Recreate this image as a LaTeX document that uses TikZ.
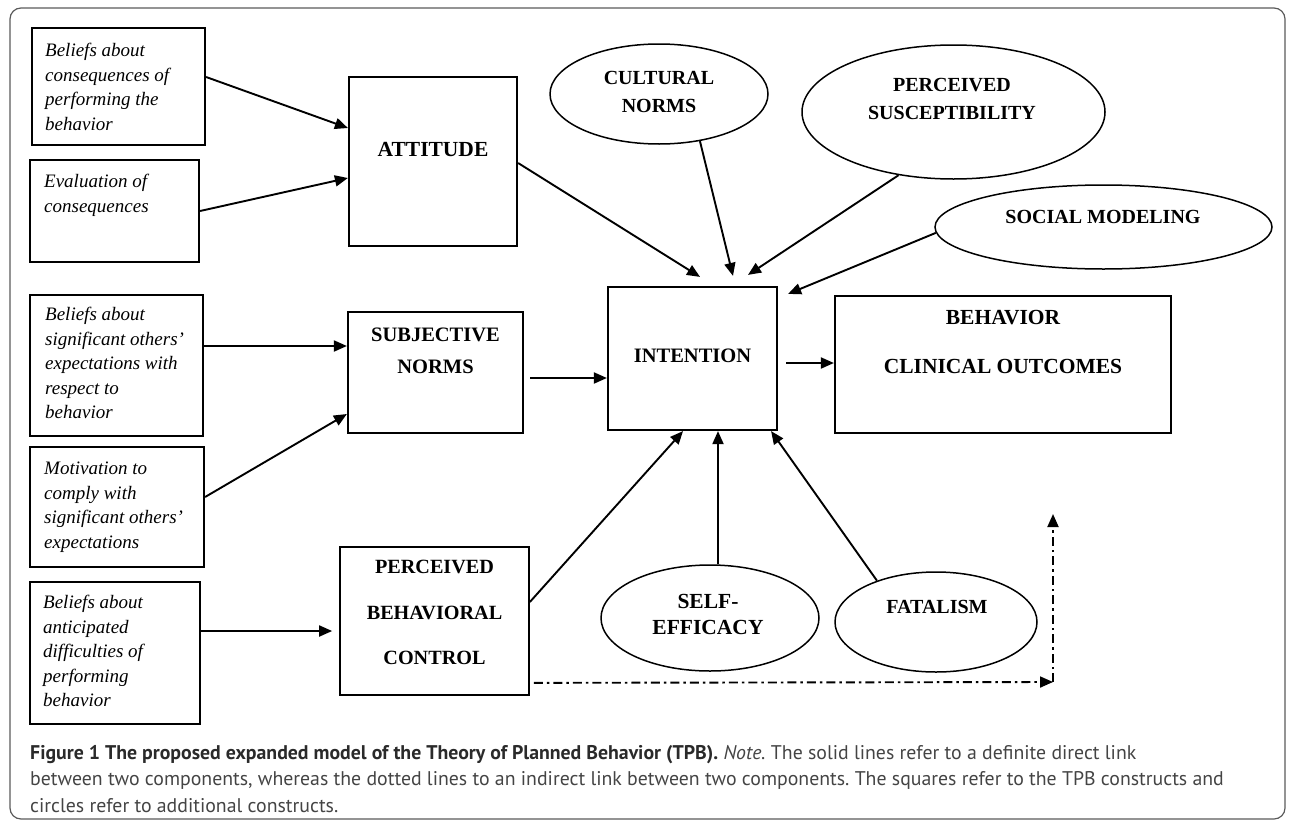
\documentclass[tikz,border=0pt]{standalone}
\usepackage{fontspec}
\setmainfont{Liberation Serif}
\newfontfamily\capfont{PT Sans}
\usetikzlibrary{arrows.meta,shapes.geometric,calc}
\definecolor{capgray}{HTML}{444444}
\definecolor{capdark}{HTML}{2A2A2A}
\definecolor{framegray}{HTML}{5A5A5A}
\frenchspacing
\begin{document}
\begin{tikzpicture}[x=1pt,y=-1pt,
  tbox/.style={draw=black,line width=2.2pt,inner sep=0pt,rectangle},
  ell/.style={draw=black,line width=1.5pt,ellipse,inner sep=0pt},
  itxt/.style={font=\fontsize{19}{24.5}\selectfont\itshape,align=left,anchor=north west,inner sep=0pt},
  btxt/.style={font=\fontsize{20}{24}\selectfont\bfseries,inner sep=0pt,align=center},
  arr/.style={line width=1.9pt,-{Triangle[length=13pt,width=11pt]}},
  darr/.style={arr,dash pattern=on 9pt off 4pt on 2.5pt off 4pt},
  captxt/.style={font=\capfont\fontsize{19.8}{26}\selectfont,anchor=base west,inner sep=0pt,text=capgray}]
\useasboundingbox (0,0) rectangle (1290,822);
% outer frame
\draw[framegray,line width=1.2pt,rounded corners=11pt] (10,8) rectangle (1285,819);

% left boxes
\node[tbox,minimum width=173pt,minimum height=117pt] (b1) at (118.5,86.5) {};
\node[itxt] (t1) at (45,43) {Beliefs about\\consequences of\\performing the\\behavior};
\node[tbox,minimum width=169pt,minimum height=102pt] (b2) at (114.5,211) {};
\node[itxt] (t2) at (44,174) {Evaluation of\\consequences};
\node[tbox,minimum width=173pt,minimum height=141pt] (b3) at (116.5,365.5) {};
\node[itxt] (t3) at (45,307) {Beliefs about\\significant others'\\expectations with\\respect to\\behavior};
\node[tbox,minimum width=174pt,minimum height=120pt] (b4) at (117,507) {};
\node[itxt] (t4) at (44,462) {Motivation to\\comply with\\significant others'\\expectations};
\node[tbox,line width=1.7pt,minimum width=170pt,minimum height=142pt] (b5) at (115,653) {};
\node[itxt] (t5) at (43,595) {Beliefs about\\anticipated\\difficulties of\\performing\\behavior};

% TPB construct boxes
\node[tbox,minimum width=168pt,minimum height=169pt] (att) at (433,161.5) {};
\node[btxt,font=\fontsize{21.5}{24}\selectfont\bfseries] (attt) at (433,150) {ATTITUDE};
\node[tbox,minimum width=175pt,minimum height=121pt] (sn) at (435.5,372.5) {};
\node[btxt,font=\fontsize{20.5}{32}\selectfont\bfseries] (snt) at (435.5,351) {SUBJECTIVE\\NORMS};
\node[tbox,line width=1.7pt,minimum width=189pt,minimum height=148pt] (pbc) at (434.5,621) {};
\node[btxt,font=\fontsize{20.2}{45.5}\selectfont\bfseries] (pbct) at (434.5,612.5) {PERCEIVED\\BEHAVIORAL\\CONTROL};
\node[tbox,minimum width=169pt,minimum height=143pt] (int) at (692.5,358.5) {};
\node[btxt,font=\fontsize{20.5}{24}\selectfont\bfseries] (intt) at (692.5,356) {INTENTION};
\node[tbox,minimum width=336pt,minimum height=137pt] (beh) at (1003,364.5) {};
\node[btxt,font=\fontsize{21.5}{49}\selectfont\bfseries] (beht) at (1003,341.5) {BEHAVIOR\\CLINICAL OUTCOMES};

% additional constructs (ellipses)
\node[ell,minimum width=218pt,minimum height=100pt] (cn) at (659,94) {};
\node[btxt,font=\fontsize{20}{28}\selectfont\bfseries] (cnt) at (659,92) {CULTURAL\\NORMS};
\node[ell,minimum width=303pt,minimum height=134pt] (ps) at (953.5,112) {};
\node[btxt,font=\fontsize{20}{28}\selectfont\bfseries] (pst) at (952,99) {PERCEIVED\\SUSCEPTIBILITY};
\node[ell,minimum width=337pt,minimum height=84pt] (sm) at (1103.5,227) {};
\node[btxt] (smt) at (1103,217) {SOCIAL MODELING};
\node[ell,minimum width=218pt,minimum height=106pt] (se) at (710,618) {};
\node[btxt,font=\fontsize{21.5}{25.5}\selectfont\bfseries] (set) at (708,614.5) {SELF-\\EFFICACY};
\node[ell,minimum width=202pt,minimum height=100pt] (fat) at (936,622) {};
\node[btxt] (fatt) at (937,607) {FATALISM};

% solid connectors
\draw[arr] ([yshift=9.5pt]b1.east) -- ([yshift=33.5pt]att.west);
\draw[arr] (b2.east) -- ([yshift=-16.5pt]att.west);
\draw[arr] ([yshift=19.5pt]b3.east) -- ([yshift=26.5pt]sn.west);
\draw[arr] ([yshift=10pt]b4.east) -- ([yshift=-41.5pt]sn.west);
\draw[arr] ([yshift=22pt]b5.east) coordinate (s5) -- ([xshift=-7pt]pbc.west |- s5);
\draw[arr] ([yshift=-1.5pt]att.east) -- ([shift={(7.5pt,9pt)}]int.north);
\draw[arr] (cn.-49) -- ([shift={(40.5pt,10pt)}]int.north);
\draw[arr] (ps.-131) -- ([shift={(55.5pt,11pt)}]int.north);
\draw[arr] (sm.182) -- ([shift={(10pt,-8pt)}]int.north east);
\draw[arr] ([shift={(6pt,-5.5pt)}]sn.east) coordinate (s6) -- (int.west |- s6);
\draw[arr] ([shift={(8pt,-4.5pt)}]int.east) coordinate (s7) -- (beh.west |- s7);
\draw[arr] ([yshift=19pt]pbc.east) -- ([xshift=-9.5pt]int.south);
\draw[arr] ([xshift=8pt]se.north) coordinate (s8) -- (s8 |- int.south);
\draw[arr] (fat.145) -- ([xshift=-7pt]int.south east);

% indirect (dash-dot) connectors
\coordinate (dcorner) at (1053,682);
\coordinate (dtop) at (1053,514);
\draw[darr] ([shift={(4pt,13pt)}]pbc.south east) -- (dcorner);
\draw[darr] (dcorner) -- (dtop);

% caption
\node[captxt] (c1) at (30,759) {\textcolor{capdark}{\bfseries Figure 1 The proposed expanded model of the Theory of Planned Behavior (TPB).} \textit{Note.} The solid lines refer to a definite direct link};
\node[captxt] (c2) at (30,785.5) {between two components, whereas the dotted lines to an indirect link between two components. The squares refer to the TPB constructs and};
\node[captxt] (c3) at (30,812) {circles refer to additional constructs.};
\end{tikzpicture}
\end{document}
